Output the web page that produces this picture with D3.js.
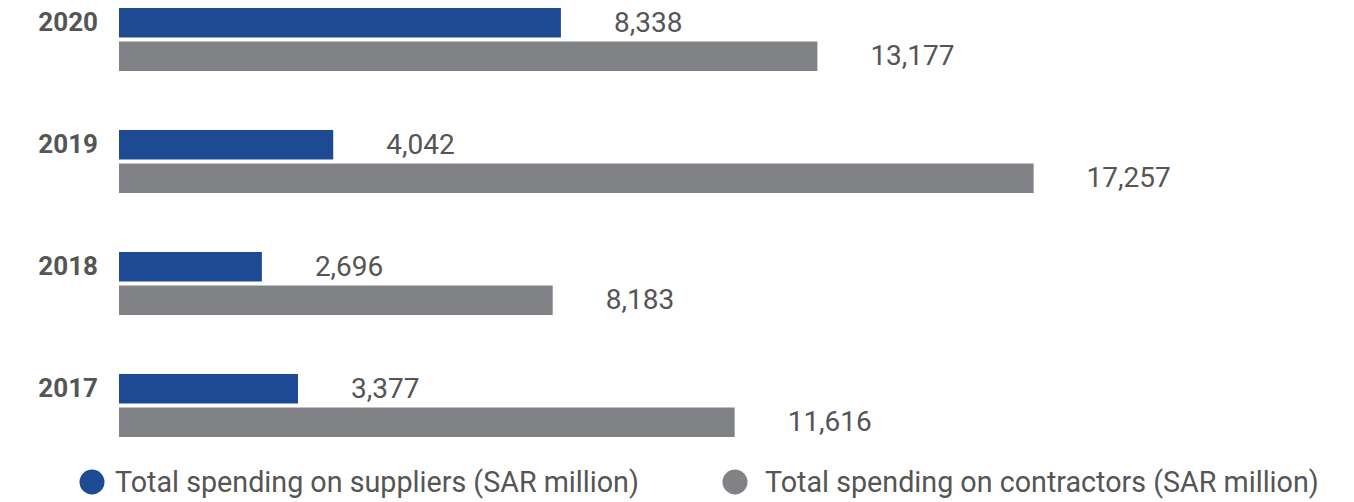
<!DOCTYPE html>
<html>
<head>
<meta charset="utf-8">
<script src="https://cdn.jsdelivr.net/npm/d3@7"></script>
<style>
  html, body { margin: 0; padding: 0; background: #ffffff; }
  svg { display: block; font-family: Roboto, "Noto Sans", sans-serif; }
</style>
</head>
<body>
<svg id="chart" width="1354" height="502"></svg>
<script>
// Years, top to bottom
const years = ["2020", "2019", "2018", "2017"];
// Total spending on suppliers (SAR million)
const suppliers = [8338, 4042, 2696, 3377];
// Total spending on contractors (SAR million)
const contractors = [13177, 17257, 8183, 11616];
// Series names shown in the legend
const seriesNames = [
  "Total spending on suppliers (SAR million)",
  "Total spending on contractors (SAR million)"
];
const seriesKeys = ["suppliers", "contractors"];
const colors = ["#1e4a93", "#818286"];

const rows = years.map((y, i) => ({ year: y, suppliers: suppliers[i], contractors: contractors[i] }));

const svg = d3.select("#chart");
const fmt = d3.format(",");

const x = d3.scaleLinear().domain([0, 20000]).range([119, 119 + 20000 * 0.053]);
const y0 = d3.scaleBand().domain(years).range([8, 437]).paddingInner(0.4836).paddingOuter(0);
const y1 = d3.scaleBand().domain(seriesKeys).range([0, y0.bandwidth()]).paddingInner(0.12);
const color = d3.scaleOrdinal().domain(seriesKeys).range(colors);

const groups = svg.append("g").selectAll("g")
  .data(rows)
  .join("g")
  .attr("transform", d => `translate(0,${y0(d.year)})`);

groups.selectAll("rect")
  .data(d => seriesKeys.map(k => ({ key: k, value: d[k] })))
  .join("rect")
  .attr("x", x(0))
  .attr("y", d => y1(d.key))
  .attr("width", d => x(d.value) - x(0))
  .attr("height", y1.bandwidth())
  .attr("fill", d => color(d.key));

groups.selectAll("text.val")
  .data(d => seriesKeys.map(k => ({ key: k, value: d[k] })))
  .join("text")
  .attr("class", "val")
  .attr("x", d => x(d.value) + 53)
  .attr("y", d => y1(d.key) + y1.bandwidth() / 2)
  .attr("dy", "0.33em")
  .attr("font-size", 28)
  .attr("fill", "#555555")
  .text(d => fmt(d.value));

// Year labels on the left
const yAxis = svg.append("g")
  .attr("transform", `translate(${x(0)},0)`)
  .call(d3.axisLeft(y0).tickSize(0).tickPadding(21));
yAxis.select(".domain").remove();
yAxis.selectAll("text")
  .attr("transform", `translate(0,${-y0.bandwidth() / 2 + y1.bandwidth() / 2})`)
  .attr("font-family", "Roboto, sans-serif")
  .attr("font-size", 26)
  .attr("font-weight", "bold")
  .attr("fill", "#555555");

// Legend
const legendCircleX = [92, 735];
const legendTextX = [115, 765];
const legend = svg.append("g").selectAll("g")
  .data(seriesKeys)
  .join("g")
  .attr("transform", "translate(0,482)");
legend.append("circle")
  .attr("cx", (d, i) => legendCircleX[i])
  .attr("r", 12.5)
  .attr("fill", d => color(d));
legend.append("text")
  .attr("x", (d, i) => legendTextX[i])
  .attr("dy", "0.35em")
  .attr("font-size", 28.7)
  .attr("fill", "#555555")
  .text((d, i) => seriesNames[i]);
</script>
</body>
</html>
